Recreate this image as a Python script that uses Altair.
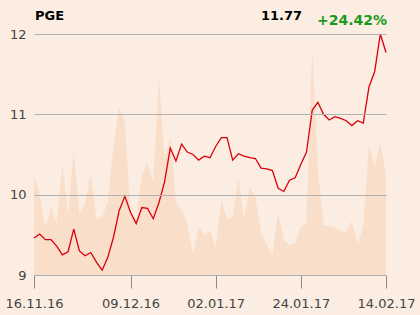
import altair as alt
import pandas as pd

# Trading-day index 0..62 (16.11.16 .. 14.02.17)
prices = [9.46, 9.51, 9.44, 9.44, 9.36, 9.25, 9.29, 9.57, 9.30, 9.24,
          9.28, 9.16, 9.06, 9.22, 9.47, 9.80, 9.98, 9.78, 9.64, 9.84,
          9.83, 9.70, 9.90, 10.16, 10.58, 10.42, 10.63, 10.53, 10.50, 10.43,
          10.48, 10.46, 10.60, 10.71, 10.71, 10.43, 10.51, 10.48, 10.46, 10.45,
          10.33, 10.32, 10.30, 10.08, 10.04, 10.18, 10.21, 10.38, 10.53, 11.05,
          11.15, 11.00, 10.93, 10.97, 10.95, 10.92, 10.86, 10.92, 10.89, 11.34,
          11.53, 12.00, 11.77]
volume = [99, 80, 47, 68, 51, 112, 58, 123, 61, 71,
          101, 56, 58, 73, 128, 168, 152, 62, 55, 100,
          112, 93, 197, 115, 138, 72, 65, 52, 20, 48,
          40, 44, 27, 75, 55, 58, 97, 55, 87, 78,
          42, 30, 20, 63, 35, 30, 32, 48, 53, 225,
          105, 50, 49, 48, 44, 43, 54, 31, 48, 130,
          107, 133, 98]
tick_index = [0, 17, 32, 47, 62]
tick_labels = ["16.11.16", "09.12.16", "02.01.17", "24.01.17", "14.02.17"]
ticker = "PGE"

df = pd.DataFrame({"i": list(range(len(prices))), "price": prices, "volume": volume})
label_expr = "{" + ",".join(f"'{k}':'{v}'" for k, v in zip(tick_index, tick_labels)) + "}[datum.value]"

font = "DejaVu Sans"
xenc = alt.X("i:Q", scale=alt.Scale(domain=[0, len(prices) - 1], nice=False),
             axis=alt.Axis(values=tick_index, labelExpr=label_expr, title=None, grid=False,
                           domainColor="#8a8a8a", tickColor="#8a8a8a", tickSize=13,
                           labelFont=font, labelFontSize=13, labelColor="#444444",
                           labelPadding=9, labelFlush=False))

area = alt.Chart(df).mark_area(color="#f8dcc6", opacity=0.9, interpolate="linear").encode(
    x=xenc,
    y=alt.Y("volume:Q", scale=alt.Scale(domain=[0, 241], nice=False), axis=None),
)

line = alt.Chart(df).mark_line(color="#d9000d", strokeWidth=1.3).encode(
    x=xenc,
    y=alt.Y("price:Q", scale=alt.Scale(domain=[9, 12], nice=False, zero=False),
            axis=alt.Axis(values=[9, 10, 11, 12], title=None, grid=True, gridColor="#b0b0b0",
                          gridWidth=1, domain=False, ticks=False, labelFont=font,
                          labelFontSize=13, labelColor="#444444", labelPadding=8, zindex=1)),
)

last = prices[-1]
pct = (prices[-1] / prices[0] - 1) * 100
tdf = pd.DataFrame({"t": [ticker], "last": [f"{last:.2f}"], "pct": [f"{pct:+.2f}%"]})
t1 = alt.Chart(tdf).mark_text(align="left", font=font, fontSize=13, fontWeight="bold",
                              color="#000000").encode(x=alt.value(1), y=alt.value(-18), text="t:N")
t2 = alt.Chart(tdf).mark_text(align="right", font=font, fontSize=13, fontWeight="bold",
                              color="#000000").encode(x=alt.value(268), y=alt.value(-18), text="last:N")
t3 = alt.Chart(tdf).mark_text(align="left", font=font, fontSize=14, fontWeight="bold",
                              color="#1a9a1a").encode(x=alt.value(283), y=alt.value(-13), text="pct:N")

chart = alt.layer(area, line, t1, t2, t3).resolve_scale(y="independent").properties(
    width=352, height=241,
    background="#fbede1",
    autosize=alt.AutoSizeParams(type="none"),
    padding={"left": 34, "top": 34, "right": 34, "bottom": 40},
).configure_view(stroke=None)

chart.save("out.html", embed_options={"renderer": "svg", "actions": False})
